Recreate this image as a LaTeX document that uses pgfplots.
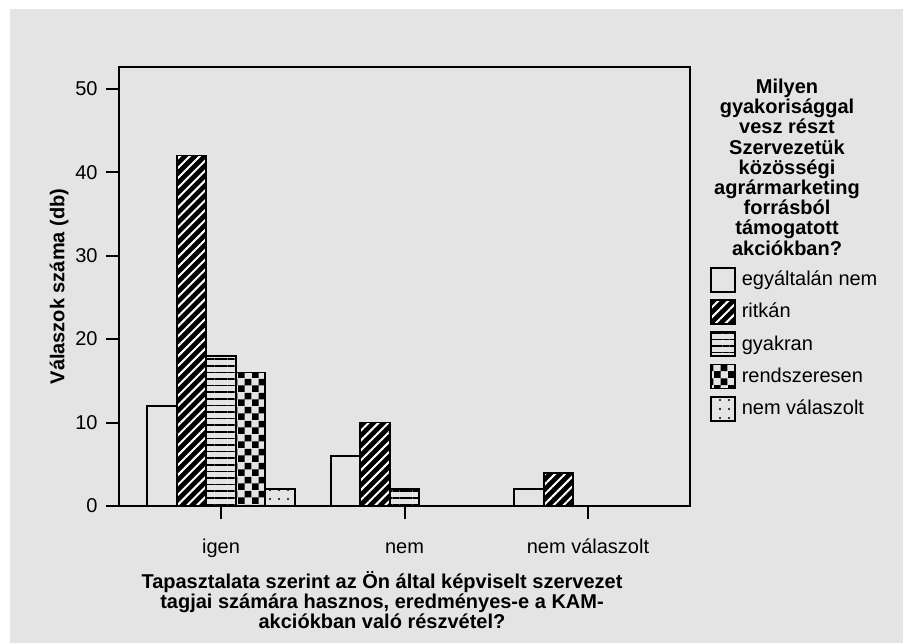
\documentclass[border=0pt]{standalone}
\usepackage{fontspec}
\setmainfont{Liberation Sans}
\usepackage{pgfplots}
\pgfplotsset{compat=1.18}
\usetikzlibrary{patterns,patterns.meta}
\definecolor{bg}{HTML}{E4E4E4}
\pgfdeclarepatternformonly{checker}{\pgfpointorigin}{\pgfqpoint{7pt}{7pt}}{\pgfqpoint{7pt}{7pt}}{%
  \pgfpathrectangle{\pgfpointorigin}{\pgfqpoint{3.5pt}{3.5pt}}%
  \pgfpathrectangle{\pgfqpoint{3.5pt}{3.5pt}}{\pgfqpoint{3.5pt}{3.5pt}}%
  \pgfusepath{fill}}
\begin{document}
\begin{tikzpicture}
\fill[white] (-59.5pt,-68.5pt) rectangle (392pt,253pt);
\fill[bg] (-54.5pt,-68.5pt) rectangle (392pt,248.5pt);
\begin{axis}[
  scale only axis, width=285.5pt, height=219.5pt,
  clip=false,
  xmin=-0.556, xmax=2.556, ymin=0, ymax=52.6,
  axis line style={line width=1pt},
  xtick={0,1,2}, xticklabels={igen,nem,nem válaszolt},
  ytick={0,10,20,30,40,50},
  xtick pos=lower, ytick pos=left,
  tick align=outside, major tick length=6.5pt,
  tick style={line width=1pt, black},
  /pgf/number format/assume math mode=true,
  tick label style={font=\fontsize{10}{12}\selectfont},
  xticklabel style={anchor=north, text height=7.2pt, text depth=2pt, inner sep=0pt, yshift=-9.8pt},
  yticklabel style={anchor=east, inner sep=0pt, xshift=-4pt},
  ylabel={Válaszok száma (db)},
  ylabel style={at={(axis description cs:-0.105,0.5)}, anchor=center, font=\bfseries\fontsize{10}{12}\selectfont},
  xlabel={Tapasztalata szerint az Ön által képviselt szervezet\\tagjai számára hasznos, eredményes-e a KAM-\\akciókban való részvétel?},
  xlabel style={at={(axis description cs:0.4606,0)}, anchor=north, inner sep=0pt, yshift=-32.5pt, align=center, font=\bfseries\fontsize{10}{10}\selectfont},
  ybar, bar width=0.1608,
  legend image code/.code={\draw[#1, line width=0.9pt] (0pt,-6pt) rectangle (12pt,6pt);},
  legend style={at={(axis description cs:1.035,0.5444)}, anchor=north west, draw=none, fill=none, inner sep=0pt, outer sep=0pt, row sep=3.2pt, column sep=2.5pt, nodes={inner sep=0.5pt}, font=\fontsize{10}{12}\selectfont},
  legend cell align=left,
]
\addplot[draw=black, line width=0.9pt, fill=bg, bar shift=-0.3215] coordinates {(0,12) (1,6) (2,2)};
\addplot[draw=black, line width=0.9pt, fill=black, bar shift=-0.1608,
  postaction={pattern={Lines[angle=45, distance=3.5pt, line width=1pt]}, pattern color=white}] coordinates {(0,42) (1,10) (2,4)};
\addplot[draw=black, line width=0.9pt, fill=bg, bar shift=0,
  postaction={pattern={Lines[angle=0, distance=3.3pt, line width=0.85pt]}, pattern color=black}] coordinates {(0,18) (1,2)};
\addplot[draw=black, line width=0.9pt, fill=bg, bar shift=0.1608,
  postaction={pattern=checker, pattern color=black}] coordinates {(0,16)};
\addplot[draw=black, line width=0.9pt, fill=bg, bar shift=0.3215,
  postaction={pattern={Dots[distance=4.5pt, radius=0.6pt]}, pattern color=black}] coordinates {(0,2)};
\legend{egyáltalán nem, ritkán, gyakran, rendszeresen, nem válaszolt}
\node[anchor=north, inner sep=0pt, align=center, font=\bfseries\fontsize{10}{10.1}\selectfont] at (axis description cs:1.1699,0.9736)
  {Milyen\\gyakorisággal\\vesz részt\\Szervezetük\\közösségi\\agrármarketing\\forrásból\\támogatott\\akciókban?};
\end{axis}
\pgfresetboundingbox
\useasboundingbox (-59.5pt,-68.5pt) rectangle (392pt,253pt);
\end{tikzpicture}
\end{document}
